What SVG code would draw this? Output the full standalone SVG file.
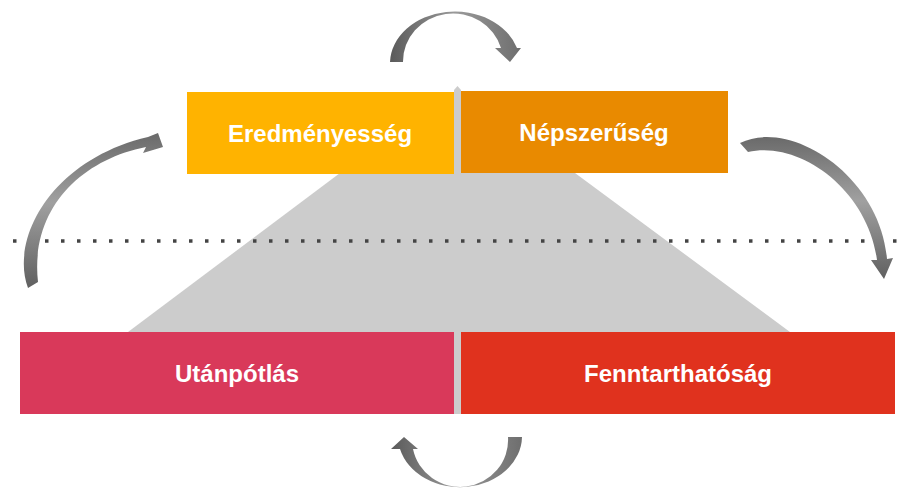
<svg xmlns="http://www.w3.org/2000/svg" width="904" height="490" viewBox="0 0 904 490">
<defs>
<style>
.lbl{font-family:"Liberation Sans",Arial,sans-serif;font-weight:bold;font-size:24px;fill:#fff;text-anchor:middle}
.arrow{stroke:none}
</style>
<linearGradient id="gh" x1="0" y1="0" x2="1" y2="0">
<stop offset="0" stop-color="#5a5a5a"/><stop offset="0.5" stop-color="#9a9a9a"/><stop offset="1" stop-color="#6e6e6e"/>
</linearGradient>
<linearGradient id="gv" x1="0" y1="0" x2="0" y2="1">
<stop offset="0" stop-color="#6a6a6a"/><stop offset="0.45" stop-color="#a0a0a0"/><stop offset="1" stop-color="#606060"/>
</linearGradient>
</defs>
<rect width="904" height="490" fill="#fff"/>
<g id="background">
<polygon points="340,173 575,173 790,332 128,332" fill="#cccccc"/>
<path d="M454 90 L457.5 86 L461 90 L461 414 L454 414 Z" fill="#cccccc"/>
<line x1="13" y1="241" x2="900" y2="241" stroke="#444" stroke-width="3.5" stroke-dasharray="3.5 12.5"/>
</g>
<g id="eredmenyesseg"><rect x="187" y="92" width="267" height="82" fill="#FFB300"/><text class="lbl" x="320" y="142">Eredményesség</text></g>
<g id="nepszeruseg"><rect x="461" y="91" width="267" height="82" fill="#E98A00"/><text class="lbl" x="594" y="141">Népszerűség</text></g>
<g id="utanpotlas"><rect x="20" y="332" width="434" height="82" fill="#D9395A"/><text class="lbl" x="237" y="382">Utánpótlás</text></g>
<g id="fenntarthatosag"><rect x="461" y="332" width="434" height="82" fill="#E0321E"/><text class="lbl" x="678" y="382">Fenntarthatóság</text></g>
<g id="connectors">
<path class="arrow" fill="url(#gh)" d="M390 62 A65 52 0 0 1 517 48 L521 48 L510 62 L495 48 L501 48 A50 48 0 0 0 403 62 Z"/>
<path class="arrow" fill="url(#gh)" d="M522 437 A62 51 0 0 1 400 449 L391 449 L404 437 L418 449 L413 449 A48 47 0 0 0 508 437 Z"/>
<path class="arrow" fill="url(#gv)" d="M28 288 C10 240 50 160 148 137 L158 133 L163 147 L143 153 L146 147 C80 160 30 210 38 282 Z"/>
<path class="arrow" fill="url(#gv)" d="M740 143 C790 118 880 175 887 259 L893 258 L884 279 L871 260 L877 260 C868 190 800 140 748 152 Z"/>
</g>
</svg>
